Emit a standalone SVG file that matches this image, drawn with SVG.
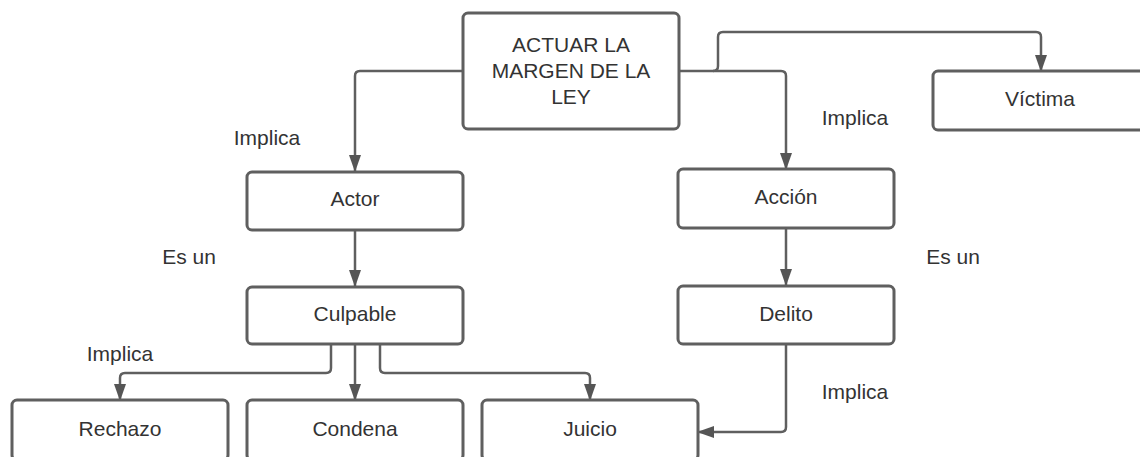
<svg xmlns="http://www.w3.org/2000/svg" width="1140" height="457" viewBox="0 0 1140 457">
<style>
.box{fill:#ffffff;stroke:#5f5f5f;stroke-width:3}
.t{font-family:"Liberation Sans",Arial,sans-serif;font-size:21px;fill:#333333;text-anchor:middle}
.c{fill:none;stroke:#5f5f5f;stroke-width:2.5;marker-end:url(#ah)}
</style>
<defs>
<marker id="ah" viewBox="0 0 17 12" refX="16" refY="6" markerWidth="17" markerHeight="12" markerUnits="userSpaceOnUse" orient="auto">
<path d="M0,0 L17,6 L0,12 z" fill="#555555"/>
</marker>
</defs>
<rect width="1140" height="457" fill="#ffffff"/>
<g id="connectors">
<path class="c" d="M463,71 H360 Q355,71 355,76 V171"/>
<path class="c" d="M679,71 H781 Q786,71 786,76 V169"/>
<path class="c" d="M713,71 Q718,71 718,66 V37 Q718,32 723,32 H1036 Q1041,32 1041,37 V71"/>
<path class="c" d="M355,230 V286"/>
<path class="c" d="M786,228 V285"/>
<path class="c" d="M331,344 V368 Q331,373 326,373 H125 Q120,373 120,378 V400"/>
<path class="c" d="M355,344 V400"/>
<path class="c" d="M380,344 V368 Q380,373 385,373 H585 Q590,373 590,378 V400"/>
<path class="c" d="M786,344 V427 Q786,432 781,432 H698"/>
</g>
<g id="labels">
<text class="t" x="267" y="145">Implica</text>
<text class="t" x="855" y="125">Implica</text>
<text class="t" x="189" y="264">Es un</text>
<text class="t" x="953" y="264">Es un</text>
<text class="t" x="120" y="361">Implica</text>
<text class="t" x="855" y="399">Implica</text>
</g>
<g id="main">
<rect class="box" x="463" y="13" width="216" height="116" rx="5"/>
<text class="t" x="571" y="52">ACTUAR LA</text>
<text class="t" x="571" y="78">MARGEN DE LA</text>
<text class="t" x="571" y="104">LEY</text>
</g>
<g id="victima">
<rect class="box" x="933" y="71" width="216" height="59" rx="5"/>
<text class="t" x="1040" y="106">Víctima</text>
</g>
<g id="actor">
<rect class="box" x="247" y="172" width="216" height="58" rx="5"/>
<text class="t" x="355" y="206">Actor</text>
</g>
<g id="accion">
<rect class="box" x="678" y="169" width="216" height="59" rx="5"/>
<text class="t" x="786" y="204">Acción</text>
</g>
<g id="culpable">
<rect class="box" x="247" y="287" width="216" height="57" rx="5"/>
<text class="t" x="355" y="321">Culpable</text>
</g>
<g id="delito">
<rect class="box" x="678" y="286" width="216" height="58" rx="5"/>
<text class="t" x="786" y="321">Delito</text>
</g>
<g id="rechazo">
<rect class="box" x="12" y="400" width="216" height="60" rx="5"/>
<text class="t" x="120" y="436">Rechazo</text>
</g>
<g id="condena">
<rect class="box" x="247" y="400" width="216" height="60" rx="5"/>
<text class="t" x="355" y="436">Condena</text>
</g>
<g id="juicio">
<rect class="box" x="482" y="400" width="216" height="60" rx="5"/>
<text class="t" x="590" y="436">Juicio</text>
</g>
</svg>
